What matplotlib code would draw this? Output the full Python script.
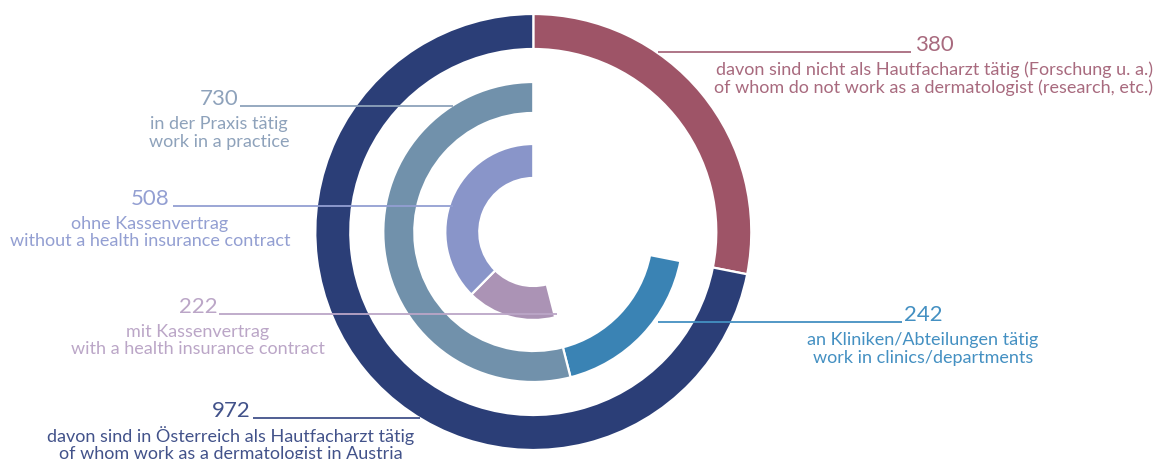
import matplotlib.pyplot as plt

# data
outer_values = [380, 972]
middle_values = [242, 730]
inner_values = [222, 508]

outer_de = ['davon sind nicht als Hautfacharzt tätig (Forschung u. a.)',
            'davon sind in Österreich als Hautfacharzt tätig']
outer_en = ['of whom do not work as a dermatologist (research, etc.)',
            'of whom work as a dermatologist in Austria']
middle_de = ['an Kliniken/Abteilungen tätig', 'in der Praxis tätig']
middle_en = ['work in clinics/departments', 'work in a practice']
inner_de = ['mit Kassenvertrag', 'ohne Kassenvertrag']
inner_en = ['with a health insurance contract', 'without a health insurance contract']

# colours
outer_colors = ['#9e5467', '#2b3e77']
middle_colors = ['#3a83b4', '#7191ab']
inner_colors = ['#ab93b5', '#8995c9']
outer_text = ['#a86a7e', '#42528a']
middle_text = ['#4490c2', '#8ea2bb']
inner_text = ['#bba6c7', '#939fd2']

W, H = 1160, 459
fig = plt.figure(figsize=(W / 100, H / 100), dpi=100)
ax = fig.add_axes([0, 0, 1, 1])

center = (533.3, H - 232)


def ring(values, colors, skip, radius, width):
    """
    draw one ring; the first (hidden) wedge keeps the ring aligned to the outer one
    """
    wedges, _ = ax.pie([skip] + values, colors=['white'] + colors,
                       radius=radius, center=center, startangle=90,
                       counterclock=False,
                       wedgeprops=dict(width=width, edgecolor='white', linewidth=1.6))
    wedges[0].set_visible(False)


ring(outer_values, outer_colors, 0, 218, 35)
ring(middle_values, middle_colors, outer_values[0], 150, 31)
ring(inner_values, inner_colors, outer_values[0] + middle_values[0], 88, 34)

ax.set_xlim(0, W)
ax.set_ylim(0, H)
ax.set_aspect('equal')
ax.axis('off')

font = dict(family=['Lato', 'DejaVu Sans'], fontweight='normal')

# label layout: (value, de, en, colour, text centre x, baseline y, line x0, line x1)
labels = [
    (outer_values[0], outer_de[0], outer_en[0], outer_text[0], 934, 52, 658, 911),
    (outer_values[1], outer_de[1], outer_en[1], outer_text[1], 231, 418, 253, 420),
    (middle_values[0], middle_de[0], middle_en[0], middle_text[0], 923, 322, 658, 902),
    (middle_values[1], middle_de[1], middle_en[1], middle_text[1], 219, 106, 240, 453),
    (inner_values[0], inner_de[0], inner_en[0], inner_text[0], 198, 314, 219, 557),
    (inner_values[1], inner_de[1], inner_en[1], inner_text[1], 150, 206, 173, 453),
]

for value, de, en, color, cx, by, x0, x1 in labels:
    ax.plot([x0, x1], [H - by, H - by], color=color, lw=1.3, zorder=5,
            solid_capstyle='butt')
    ax.text(cx, H - by + 1, str(value), color=color, fontsize=16,
            ha='center', va='baseline', zorder=6, **font)
    ax.text(cx, H - by - 17.5, de, color=color, fontsize=13,
            ha='center', va='center', zorder=6, **font)
    ax.text(cx, H - by - 35.5, en, color=color, fontsize=13,
            ha='center', va='center', zorder=6, **font)

fig.savefig('out.png', dpi=100)
